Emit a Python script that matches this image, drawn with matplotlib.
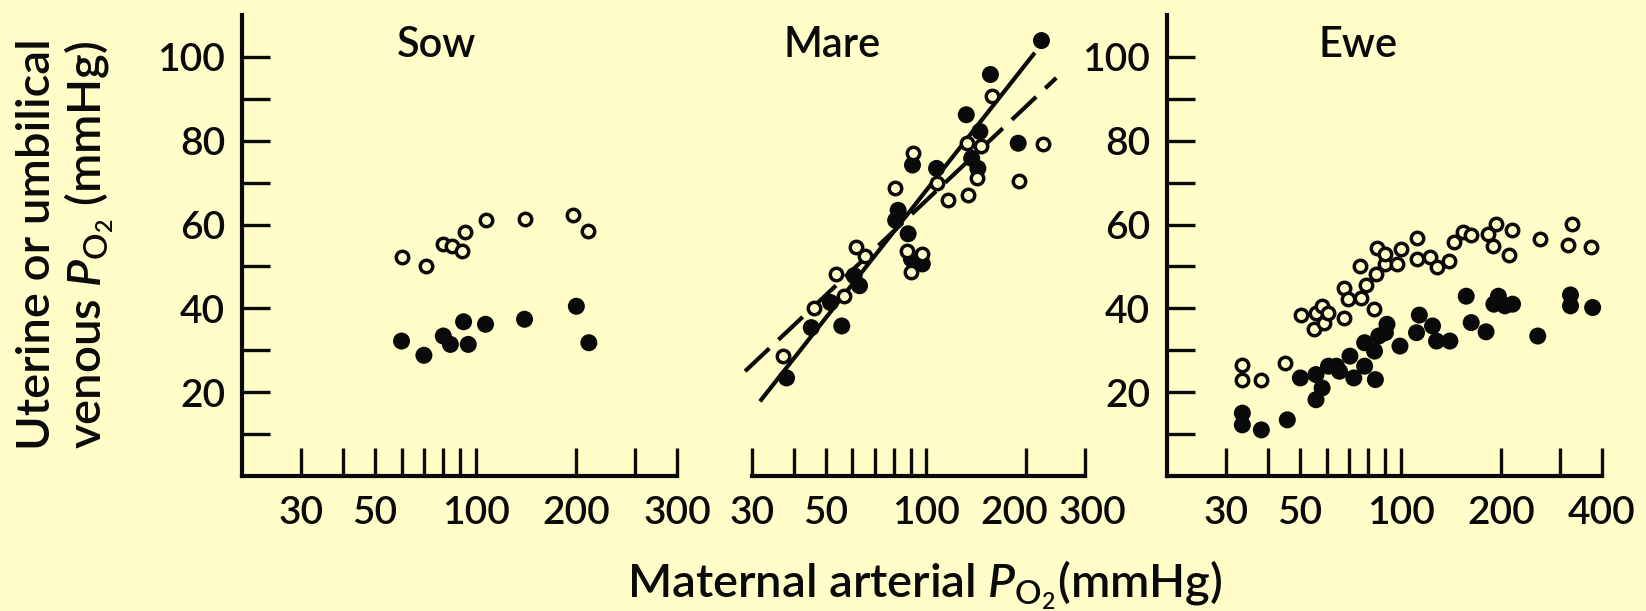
import matplotlib
matplotlib.use('Agg')
import matplotlib.pyplot as plt
from matplotlib.ticker import FixedLocator, NullLocator
from matplotlib.transforms import ScaledTranslation

# --- data (maternal arterial PO2 vs uterine/umbilical venous PO2)
sow_open_x = [60, 71, 80, 85, 91, 93, 107, 140, 195, 216]
sow_open_y = [52.2, 50.2, 55.4, 55.0, 53.8, 58.2, 61.0, 61.4, 62.2, 58.4]
sow_filled_x = [60, 70, 80, 84, 92, 95, 107, 140, 200, 218]
sow_filled_y = [32.2, 28.8, 33.4, 31.4, 36.8, 31.4, 36.2, 37.4, 40.5, 31.8]

mare_open_x = [157.5, 132.5, 146, 224, 190.7, 142, 133.5, 116, 107.5, 91.3,
               80.5, 87.5, 97.4, 90.3, 61.4, 65.5, 53.5, 56.5, 46, 37.2]
mare_open_y = [90.6, 79.4, 78.8, 79.1, 70.4, 71, 67, 65.8, 69.8, 77,
               68.8, 53.8, 53, 48.6, 54.6, 52.4, 48.2, 43, 40.2, 28.6]
mare_filled_x = [222, 156, 132, 145, 189, 137, 143, 91, 107.5, 82.4,
                 81, 88.3, 90.3, 97.4, 63.1, 60.8, 45.2, 55.8, 51.6, 38.1]
mare_filled_y = [103.9, 95.8, 86.2, 82.2, 79.4, 75.8, 73.4, 74.2, 73.4, 63.4,
                 61, 57.8, 51.8, 50.6, 45.4, 47.8, 35.4, 35.8, 41.4, 23.4]
# regression lines (end points)
mare_solid_x = [31.7, 212]
mare_solid_y = [17.8, 101]
mare_dash_x = [28.6, 246]
mare_dash_y = [25, 95]

ewe_open_x = [33.6, 33.6, 38.3, 45.1, 50.3, 55, 55.8, 58.2, 59, 60.8,
              67.8, 67.8, 69.6, 75.5, 76.2, 79, 83, 84.2, 85, 90,
              90, 97.5, 100, 111.5, 111.5, 122, 128, 139, 144.6, 154,
              162.5, 182.4, 192.4, 189, 215, 211, 261, 326, 316, 372]
ewe_open_y = [26.6, 22.9, 22.9, 26.9, 38.4, 35, 38.8, 40.6, 36.6, 39,
              37.6, 44.8, 42.2, 50, 42.4, 45.6, 39.8, 48.2, 54.4, 50.6,
              53, 50.6, 54.2, 56.8, 51.8, 52.2, 49.8, 51.4, 55.9, 58.3,
              57.6, 57.8, 60.2, 55, 58.6, 52.8, 56.6, 60.2, 55.2, 54.6]
ewe_filled_x = [33.6, 33.6, 38.3, 45.8, 50.1, 55.8, 58.2, 55.8, 60.8, 64.2,
                65.6, 70.5, 72.4, 78, 84, 78, 83.5, 86, 90, 91,
                99.5, 113.7, 111.5, 124.5, 128, 140.3, 157, 162.5, 180, 196,
                190, 205, 216, 257, 322, 322, 375]
ewe_filled_y = [15, 12.2, 11, 13.4, 23.4, 18.2, 21, 24.2, 26.2, 26.2,
                25, 28.6, 23.4, 26.2, 23, 31.8, 29.8, 33.4, 34.2, 36.2,
                31, 38.4, 34.2, 35.8, 32.2, 32.2, 42.9, 36.6, 34.4, 42.9,
                41, 40.6, 41, 33.4, 43.2, 40.6, 40.2]

sow_ticks = [30, 40, 50, 60, 70, 80, 90, 100, 200, 300, 400]
sow_tick_labels = ['30', '', '50', '', '', '', '', '100', '200', '', '300']
mare_ticks = [30, 40, 50, 60, 70, 80, 90, 100, 200, 300]
mare_tick_labels = ['30', '', '50', '', '', '', '', '100', '200', '300']
ewe_ticks = [30, 40, 50, 60, 70, 80, 90, 100, 200, 300, 400]
ewe_tick_labels = ['30', '', '50', '', '', '', '', '100', '200', '', '400']
y_ticks = [10, 20, 30, 40, 50, 60, 70, 80, 90, 100]
y_tick_labels = ['', '20', '', '40', '', '60', '', '80', '', '100']

bg = '#fffdc8'
ink = '#0a0a0a'

plt.rcParams['font.family'] = ['Lato', 'DejaVu Sans']
plt.rcParams['font.weight'] = 'semibold'
plt.rcParams['mathtext.fontset'] = 'custom'
plt.rcParams['mathtext.rm'] = 'Lato:semibold'
plt.rcParams['mathtext.it'] = 'Lato:italic:semibold'
plt.rcParams['lines.scale_dashes'] = False


def style(ax, xlim, ticks, labels, yaxis=True):
    ax.set_xscale('log')
    ax.set_xlim(*xlim)
    ax.set_ylim(0, 110)
    ax.set_facecolor('none')
    for s in ['top', 'right']:
        ax.spines[s].set_visible(False)
    for s in ['left', 'bottom']:
        ax.spines[s].set_linewidth(3.0)
        ax.spines[s].set_color(ink)
    ax.xaxis.set_major_locator(FixedLocator(ticks))
    ax.xaxis.set_minor_locator(NullLocator())
    ax.set_xticklabels(labels)
    ax.tick_params(axis='x', direction='in', length=20, width=2.4, pad=14,
                   labelsize=28, color=ink, labelcolor=ink)
    if yaxis:
        ax.yaxis.set_major_locator(FixedLocator(y_ticks))
        ax.yaxis.set_minor_locator(NullLocator())
        ax.set_yticklabels(y_tick_labels)
        ax.tick_params(axis='y', direction='in', length=20, width=2.4, pad=12,
                       labelsize=28, color=ink, labelcolor=ink)
    else:
        ax.spines['left'].set_visible(False)
        ax.tick_params(axis='y', left=False, labelleft=False)


def points(ax, fx, fy, ox, oy):
    ax.scatter(fx, fy, s=150, c=ink, edgecolors='none', zorder=3, clip_on=False)
    ax.scatter(ox, oy, s=80, facecolors=bg, edgecolors=ink, linewidths=2.5,
               zorder=4, clip_on=False)


fig = plt.figure(figsize=(16.46, 6.11), dpi=100, facecolor=bg)
W, H = 1646.0, 611.0
bottom = 135 / H
height = 461 / H

ax1 = fig.add_axes([242 / W, bottom, 435 / W, height])
ax2 = fig.add_axes([752 / W, bottom, 333 / W, height])
ax3 = fig.add_axes([1167 / W, bottom, 435 / W, height])

style(ax1, (20, 400), sow_ticks, sow_tick_labels)
style(ax2, (30, 300), mare_ticks, mare_tick_labels, yaxis=False)
style(ax3, (20, 400), ewe_ticks, ewe_tick_labels)

# the "200" and "300" under the mare panel sit slightly apart in the original
for lbl in ax2.get_xticklabels():
    if lbl.get_text() == '200':
        lbl.set_transform(lbl.get_transform() + ScaledTranslation(-9 / 72, 0, fig.dpi_scale_trans))
    if lbl.get_text() == '300':
        lbl.set_transform(lbl.get_transform() + ScaledTranslation(5 / 72, 0, fig.dpi_scale_trans))

points(ax1, sow_filled_x, sow_filled_y, sow_open_x, sow_open_y)

ax2.plot(mare_solid_x, mare_solid_y, '-', color=ink, lw=3.0, zorder=2,
         clip_on=False, solid_capstyle='butt')
ax2.plot(mare_dash_x, mare_dash_y, color=ink, lw=3.0, zorder=2, clip_on=False,
         dashes=(24, 9), dash_capstyle='butt')
points(ax2, mare_filled_x, mare_filled_y, mare_open_x, mare_open_y)

points(ax3, ewe_filled_x, ewe_filled_y, ewe_open_x, ewe_open_y)

ax1.text(0.448, 0.909, 'Sow', transform=ax1.transAxes, ha='center',
         va='baseline', fontsize=30, color=ink)
ax2.text(0.24, 0.909, 'Mare', transform=ax2.transAxes, ha='center',
         va='baseline', fontsize=30, color=ink)
ax3.text(0.439, 0.909, 'Ewe', transform=ax3.transAxes, ha='center',
         va='baseline', fontsize=30, color=ink)

fig.text(66 / W, 0.6, 'Uterine or umbilical\nvenous $P_{\\mathrm{O}_2}$ (mmHg)',
         rotation=90, ha='center', va='center', multialignment='center',
         fontsize=34, color=ink, linespacing=1.1)
fig.text(925 / W, 0.022, 'Maternal arterial $P_{\\mathrm{O}_2}$(mmHg)',
         ha='center', va='baseline', fontsize=34, color=ink)

fig.savefig('out.png', dpi=100, facecolor=bg)
